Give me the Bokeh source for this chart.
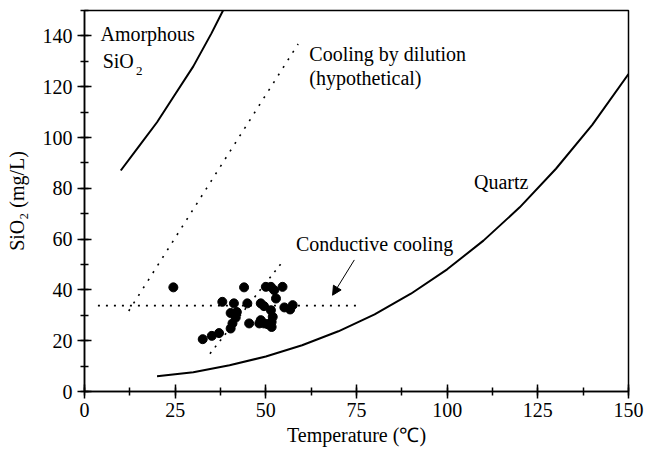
from bokeh.plotting import figure
from bokeh.models import Range1d, SingleIntervalTicker, Label, Arrow, NormalHead
from bokeh.embed import file_html
from bokeh.resources import INLINE

# ---- data ----
amorph_t = [10, 15, 20, 25, 30, 35, 38.2]
amorph_si = [87, 96.5, 106, 117, 128, 141, 150]

quartz_t = [20, 30, 40, 50, 60, 70, 80, 90, 100, 110, 120, 130, 140, 150]
quartz_si = [6, 7.6, 10.3, 13.8, 18.2, 23.7, 30.4, 38.5, 48.1, 59.4, 72.5, 87.7, 105, 125]

# conductive cooling (horizontal) line
cond_t = [3.7, 75]
cond_si = [33.8, 33.8]
# cooling by dilution (hypothetical) line
dil_t = [12.2, 58.9]
dil_si = [31.7, 136.8]
# trend line through the samples
trend_t = [34.6, 55]
trend_si = [14.9, 51.8]

sample_t = [24.5, 32.6, 35.1, 37.1, 38.0, 40.3, 40.8, 41.7, 40.3, 42.0, 41.2,
            44.0, 44.9, 45.4, 48.2, 48.6, 48.6, 49.5, 50.0, 51.4, 52.3, 54.6,
            52.8, 51.4, 51.9, 51.6, 50.5, 51.6, 55.1, 57.4, 56.7, 49.5]
sample_si = [41.0, 20.6, 21.9, 23.0, 35.3, 24.8, 26.8, 29.1, 30.9, 31.3, 34.7,
             41.0, 34.7, 26.8, 26.8, 28.1, 34.7, 33.6, 41.2, 41.2, 39.9, 41.2,
             36.6, 32.0, 29.4, 27.4, 26.5, 25.4, 33.1, 34.0, 32.3, 26.8]

FONT = "'Liberation Serif', 'Times New Roman', serif"

p = figure(width=646, height=456, output_backend="svg", toolbar_location=None,
           x_range=Range1d(0, 150), y_range=Range1d(0, 150),
           min_border_left=84, min_border_right=18, min_border_top=10,
           min_border_bottom=65)

p.xgrid.visible = False
p.ygrid.visible = False
p.outline_line_color = "black"
p.outline_line_width = 1.5
p.background_fill_color = "white"
p.border_fill_color = "white"

p.xaxis.ticker = SingleIntervalTicker(interval=25, num_minor_ticks=2)
p.yaxis.ticker = SingleIntervalTicker(interval=20, num_minor_ticks=2)
for ax in (p.xaxis[0], p.yaxis[0]):
    ax.axis_line_color = "black"
    ax.axis_line_width = 1.5
    ax.major_tick_line_color = "black"
    ax.major_tick_line_width = 1.5
    ax.minor_tick_line_color = "black"
    ax.minor_tick_line_width = 1.5
    ax.major_tick_in = 7
    ax.major_tick_out = 7
    ax.minor_tick_in = 4
    ax.minor_tick_out = 4
    ax.major_label_text_font = FONT
    ax.major_label_text_font_size = "20px"
    ax.major_label_text_color = "black"
    ax.axis_label_text_font = FONT
    ax.axis_label_text_font_size = "20px"
    ax.axis_label_text_font_style = "normal"
    ax.axis_label_text_color = "black"

p.xaxis.major_label_standoff = 4
p.yaxis.major_label_standoff = 5
p.xaxis.axis_label = "Temperature (\u2103)"
p.yaxis.axis_label = "SiO\u2082 (mg/L)"
p.xaxis.axis_label_standoff = 4
p.yaxis.axis_label_standoff = 12

# curves
p.line(amorph_t, amorph_si, line_color="black", line_width=2)
p.line(quartz_t, quartz_si, line_color="black", line_width=2)

# dotted lines
p.line(cond_t, cond_si, line_color="black", line_width=1.6, line_dash="2 6")
p.line(dil_t, dil_si, line_color="black", line_width=1.6, line_dash="2 7")
p.line(trend_t, trend_si, line_color="black", line_width=1.6, line_dash="2 6")

# samples
p.scatter(sample_t, sample_si, marker="circle", size=9, fill_color="black",
          line_color="black")

# arrow
p.add_layout(Arrow(end=NormalHead(size=9, fill_color="black", line_color="black"),
                   x_start=74.4, y_start=51.8, x_end=68.4, y_end=37.9,
                   line_color="black", line_width=1))

def lab(x, y, t, size="20px"):
    p.add_layout(Label(x=x, y=y, text=t, text_font=FONT, text_font_size=size,
                       text_baseline="middle", text_align="left",
                       text_color="black"))

lab(4.4, 140.7, "Amorphous")
lab(5.0, 130.2, "SiO")
lab(14.2, 126.3, "2", "13px")
lab(62.0, 132.8, "Cooling by dilution")
lab(62.0, 123.6, "(hypothetical)")
lab(107.4, 82.3, "Quartz")
lab(58.3, 58.1, "Conductive cooling")

open("out.html", "w").write(file_html(p, INLINE))
